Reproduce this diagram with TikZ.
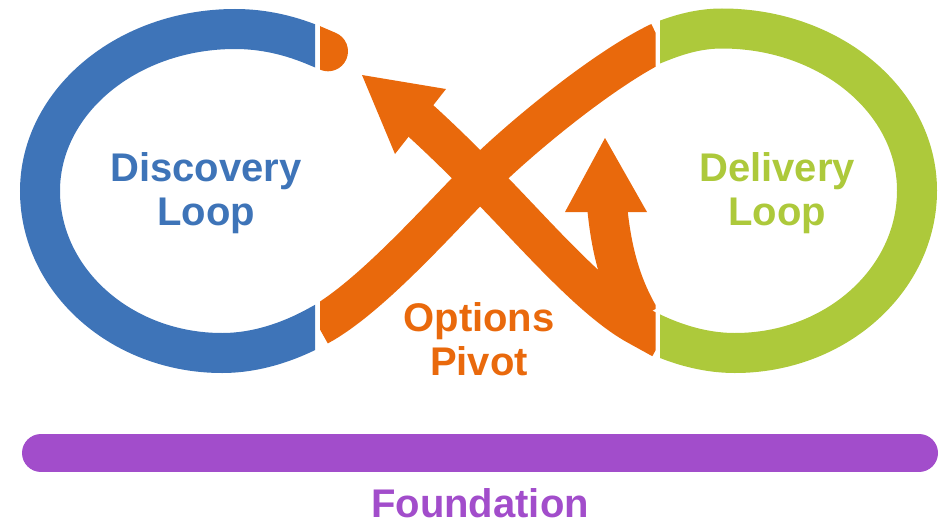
\documentclass[tikz,border=0pt]{standalone}
\usepackage{fontspec}
\setmainfont{Liberation Sans}
\usepackage{xcolor}
\usepackage{tikz}
\usetikzlibrary{positioning}
\definecolor{discblue}{RGB}{62,116,184}
\definecolor{pivorange}{RGB}{233,105,12}
\definecolor{delgreen}{RGB}{173,201,59}
\definecolor{foundpurple}{RGB}{162,77,203}

\begin{document}
\begin{tikzpicture}[x=1pt,y=-1pt,
  ringband/.style={line width=40pt},
  looptext/.style={font=\fontsize{40}{44}\selectfont\bfseries, align=center, anchor=base, inner sep=0pt}]
\useasboundingbox (0,0) rectangle (946,525);

\begin{scope}
\clip (0,0) rectangle (315,400);
\draw[ringband,discblue] (330,52) -- (318,47) .. controls (290,35) and (263,29) .. (235,29)
  .. controls (127.3,29) and (40,101.5) .. (40,191)
  .. controls (40,280.5) and (121.5,353) .. (222,353)
  .. controls (255.9,353) and (289,342) .. (318,326) -- (330,319.4);
\end{scope}

\begin{scope}
\clip (660,0) rectangle (946,400);
\draw[ringband,delgreen] (648,46.8) -- (660,42) .. controls (680,34) and (700,28.5) .. (722,28.5)
  .. controls (829.7,28.5) and (917,101) .. (917,190.5)
  .. controls (917,280) and (835.5,353) .. (735,353)
  .. controls (701.1,353) and (668,342) .. (639,326);
\end{scope}

\begin{scope}
\clip (320,0) rectangle (655.5,400);
\draw[ringband,pivorange] (318,326) .. controls (370,298) and (440,218) .. (480,178)
  .. controls (520,138) and (605,68) .. (660,42);
\draw[ringband,pivorange] (416.2,116.7) .. controls (440.4,138.4) and (462.8,160.8) .. (480,178)
  .. controls (525,222) and (590,300) .. (639,326) -- (662,338.7);
\draw[ringband,pivorange] (640,318) .. controls (621,286) and (611,250) .. (607,205);
\draw[ringband,pivorange,line cap=round] (300,39.3) -- (328,51.3);
\fill[pivorange] (362,75) -- (446,89) -- (395,154) -- cycle;
\fill[pivorange] (605,138) -- (647,212) -- (565,212) -- cycle;
\end{scope}

\draw[foundpurple,line width=38pt,line cap=round] (41,453) -- (919,453);

\node[looptext,text=discblue] (disc) at (206,225) {Discovery\\Loop};
\node[looptext,text=delgreen] (deliv) at (777,225) {Delivery\\Loop};
\node[looptext,text=pivorange] (pivot) at (479,375) {Options\\Pivot};
\node[looptext,text=foundpurple] (found) at (480,517) {Foundation};
\end{tikzpicture}
\end{document}
